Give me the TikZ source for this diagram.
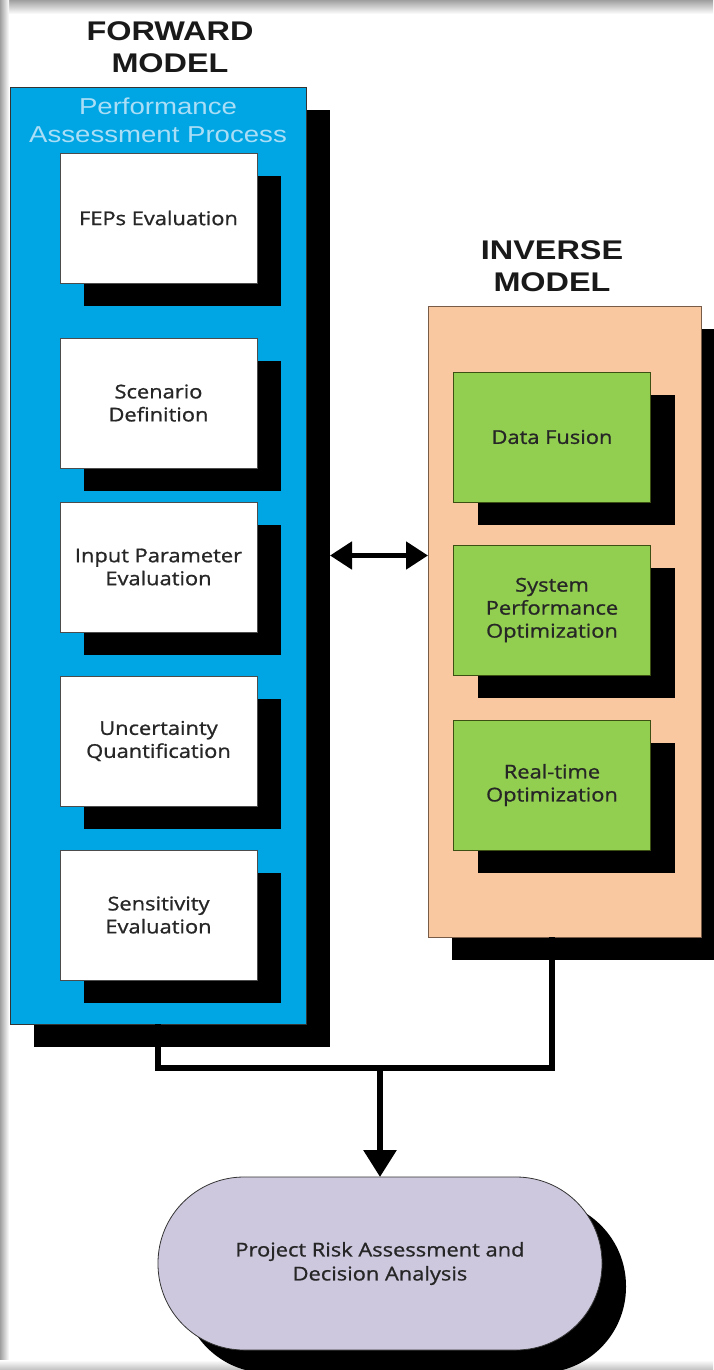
\documentclass[tikz,border=0pt]{standalone}
\usepackage{fontspec}
\usetikzlibrary{arrows.meta,shadows}
\newfontfamily\titfont[FakeStretch=1.2]{Liberation Sans}
\newfontfamily\cajafont[FakeStretch=1.15,FakeBold=1]{Open Sans}
\definecolor{azulfwd}{RGB}{0,166,228}
\definecolor{textoazul}{RGB}{170,222,246}
\definecolor{durazno}{RGB}{250,200,160}
\definecolor{bordedur}{RGB}{120,92,72}
\definecolor{verde}{RGB}{146,206,80}
\definecolor{verdeosc}{RGB}{60,80,20}
\definecolor{lila}{RGB}{206,200,222}
\begin{document}
\begin{tikzpicture}[x=1pt,y=-1pt,
    sombra/.style={drop shadow={shadow xshift=24pt,shadow yshift=-23pt,fill=black,opacity=1}},
    caja/.style={rectangle,sombra,minimum width=197pt,minimum height=130pt,inner sep=2pt,outer sep=0pt,
        align=center,font=\cajafont\fontsize{19}{23}\selectfont,line width=0.8pt},
    cajablanca/.style={caja,fill=white,draw=black!70,text=black!85},
    cajaverde/.style={caja,fill=verde,draw=verdeosc,text=black!85},
    titulo/.style={align=center,font=\titfont\bfseries\fontsize{27}{32}\selectfont,text=black!90},
    enlace/.style={line width=6pt,black}]
\useasboundingbox (0,0) rectangle (713,1370);
    %Marco
    \fill[white] (0,0) rectangle (713,1370);
    \shade[top color=gray!75,bottom color=white] (0,0) rectangle (713,14);
    \shade[left color=gray!75,right color=white] (0,0) rectangle (9,1370);
    \shade[top color=white,bottom color=gray!50] (0,1360) rectangle (713,1370);

    %Modelo directo
    \node[titulo] (fwdtit) at (170,47.5) {FORWARD\\MODEL};
    \node[rectangle,sombra,fill=azulfwd,draw=black!80,line width=0.8pt,outer sep=0pt,
        minimum width=296pt,minimum height=937pt] (fwd) at (158,555.5) {};
    \node[align=center,text=textoazul,font=\titfont\fontsize{23}{28}\selectfont] (pap) at (158,120)
        {Performance\\Assessment Process};
    \foreach \nom/\yc/\txt in {feps/218/{FEPs Evaluation},scen/403/{Scenario\\Definition},
        inpar/567/{Input Parameter\\Evaluation},unc/741/{Uncertainty\\Quantification},
        sens/915/{Sensitivity\\Evaluation}}{
        \node[cajablanca] (\nom) at (158.5,\yc) {\txt};
    }

    %Modelo inverso
    \node[titulo] (invtit) at (552,266.5) {INVERSE\\MODEL};
    \node[rectangle,sombra,fill=durazno,draw=bordedur,line width=0.8pt,outer sep=0pt,
        minimum width=273pt,minimum height=631pt] (inv) at (564.5,621.5) {};
    \foreach \nom/\yc/\txt in {dfus/437/{Data Fusion},sysopt/610/{System\\Performance\\Optimization},
        rtopt/785/{Real-time\\Optimization}}{
        \node[cajaverde] (\nom) at (552,\yc) {\txt};
    }

    %Analisis de riesgo
    \node[rectangle,rounded corners=86pt,sombra,fill=lila,draw=black!80,line width=0.8pt,outer sep=0pt,
        minimum width=444pt,minimum height=173pt,align=center,text=black!85,
        font=\cajafont\fontsize{19}{24}\selectfont] (risk) at (380,1263.5)
        {Project Risk Assessment and\\Decision Analysis};

    %Conectores
    \draw[line width=5pt,{Triangle[length=22pt,width=27pt]}-{Triangle[length=22pt,width=27pt]}]
        ([xshift=24pt]fwd.east) -- (inv.west |- fwd.east);
    \coordinate (union) at (380,1068);
    \draw[enlace] (fwd.south) |- (union) -| (rtopt.south |- inv.south);
    \draw[enlace,-{Triangle[length=27pt,width=32pt]}] (union) -- (risk.north);
\end{tikzpicture}
\end{document}
